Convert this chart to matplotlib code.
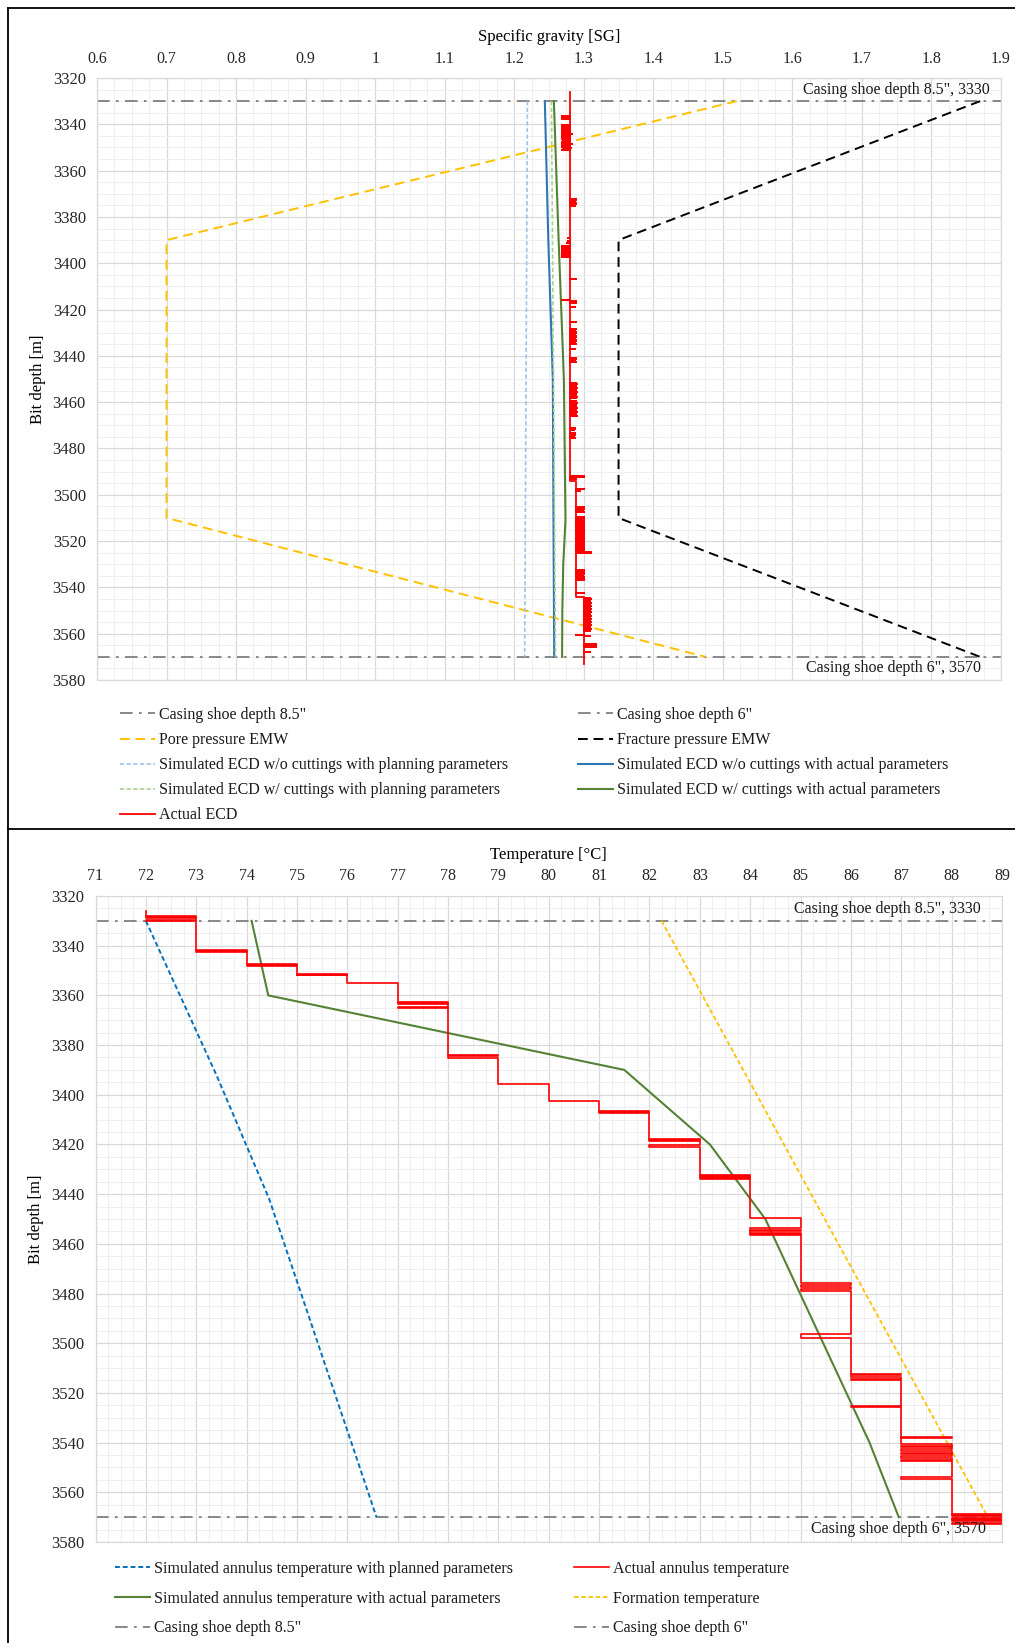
import numpy as np
import matplotlib.pyplot as plt
from matplotlib.lines import Line2D
from matplotlib.ticker import MultipleLocator, FuncFormatter

plt.rcParams['font.family'] = ['Liberation Serif', 'DejaVu Serif']
plt.rcParams['font.size'] = 11.5
plt.rcParams['text.color'] = '#1a1a1a'

W, H = 1015, 1643
fig = plt.figure(figsize=(W / 100, H / 100), dpi=100)

# ---------------- ECD / pressure window data ----------------
shoe_85 = 3330
shoe_6 = 3570

pore_depth = [3330, 3390, 3510, 3570]
pore_sg = [1.52, 0.70, 0.70, 1.475]
frac_depth = [3330, 3390, 3510, 3570]
frac_sg = [1.87, 1.35, 1.35, 1.87]

sim_plan_nocut_depth = [3330, 3570]
sim_plan_nocut = [1.219, 1.215]
sim_act_nocut_depth = [3330, 3390, 3450, 3515, 3570]
sim_act_nocut = [1.244, 1.249, 1.2555, 1.2565, 1.2575]
sim_plan_cut_depth = [3330, 3450, 3570]
sim_plan_cut = [1.2535, 1.2565, 1.2593]
sim_act_cut_depth = [3330, 3388, 3450, 3511, 3530, 3550, 3570]
sim_act_cut = [1.257, 1.2636, 1.2714, 1.2737, 1.2705, 1.2692, 1.2688]

# actual ECD log: steady level between shift depths + single-reading excursions
ecd_shift_depth = [3326.2, 3494.0, 3544.0, 3573.0]
ecd_level = [1.280, 1.289, 1.300]
ecd_spike_depth = [
    3336.3, 3336.8, 3337.3, 3337.8,
    3340.3, 3340.9, 3341.5, 3342.1, 3342.7, 3343.3, 3344.0, 3343.9, 3344.5, 3345.1,
    3345.7, 3346.3, 3346.9, 3347.5, 3348.1, 3348.4, 3348.7, 3349.3, 3349.9, 3350.2,
    3350.5, 3351.0,
    3372.2, 3372.8, 3373.4, 3374.0, 3374.6, 3375.3,
    3389.1, 3390.2, 3391.2, 3392.6, 3393.2, 3393.8, 3394.4, 3395.0, 3395.6, 3396.2,
    3396.8, 3397.5,
    3407.0, 3415.9, 3416.3, 3417.0, 3418.9, 3425.3,
    3428.4, 3429.0, 3429.6, 3430.2, 3430.8, 3431.4, 3432.0, 3432.6, 3433.2, 3433.8,
    3434.4, 3434.9, 3437.0, 3440.8, 3441.4, 3442.0, 3442.6,
    3451.6, 3452.2, 3452.8, 3453.4, 3454.0, 3454.6, 3455.2, 3455.8, 3456.4, 3457.0,
    3457.6, 3458.2, 3459.6, 3460.2, 3460.8, 3461.8, 3462.4, 3463.0, 3463.6, 3464.2,
    3464.8, 3465.4, 3466.0,
    3471.0, 3471.6, 3472.2, 3473.5, 3474.1, 3474.8, 3475.5,
    3491.8, 3492.5, 3493.0,
    3497.5, 3498.3, 3505.4, 3506.1, 3506.8, 3507.6,
    3509.7, 3510.4, 3511.1, 3511.8, 3512.5, 3513.2, 3513.9, 3514.6, 3515.3, 3516.0,
    3516.7, 3517.4, 3518.1, 3518.8, 3519.5, 3520.2, 3520.9, 3521.6, 3522.3, 3523.0,
    3523.7, 3524.3, 3524.8, 3525.3,
    3532.7, 3533.4, 3534.1, 3534.8, 3535.5, 3536.2, 3537.0, 3542.5,
    3544.5, 3545.2, 3545.9, 3546.6, 3547.3, 3548.0, 3548.7, 3549.4, 3550.1, 3550.8,
    3551.5, 3552.2, 3552.9, 3553.6, 3554.3, 3555.0, 3555.7, 3556.4, 3557.1, 3557.8,
    3558.7, 3560.7, 3561.2,
    3564.3, 3564.8, 3565.3, 3565.8, 3568.0,
]
ecd_spike_sg = [
    1.268, 1.268, 1.268, 1.268,
    1.268, 1.268, 1.269, 1.268, 1.268, 1.270, 1.283, 1.268, 1.268, 1.269,
    1.268, 1.268, 1.270, 1.268, 1.268, 1.283, 1.269, 1.268, 1.268, 1.282,
    1.270, 1.268,
    1.289, 1.289, 1.288, 1.289, 1.289, 1.288,
    1.277, 1.277, 1.276, 1.268, 1.268, 1.268, 1.268, 1.268, 1.268, 1.268,
    1.268, 1.268,
    1.289, 1.268, 1.289, 1.289, 1.288, 1.289,
    1.289, 1.288, 1.289, 1.289, 1.288, 1.289, 1.289, 1.288, 1.289, 1.289,
    1.288, 1.289, 1.288, 1.289, 1.289, 1.288, 1.289,
    1.289, 1.290, 1.289, 1.289, 1.290, 1.289, 1.289, 1.290, 1.289, 1.289,
    1.290, 1.289, 1.289, 1.290, 1.289, 1.289, 1.290, 1.289, 1.289, 1.290,
    1.289, 1.289, 1.290,
    1.287, 1.287, 1.286, 1.287, 1.287, 1.286, 1.287,
    1.300, 1.300, 1.289,
    1.300, 1.295, 1.300, 1.300, 1.299, 1.300,
    1.301, 1.300, 1.301, 1.300, 1.301, 1.300, 1.301, 1.300, 1.301, 1.300,
    1.301, 1.300, 1.301, 1.300, 1.301, 1.300, 1.301, 1.300, 1.301, 1.300,
    1.301, 1.300, 1.310, 1.310,
    1.300, 1.300, 1.300, 1.299, 1.300, 1.300, 1.300, 1.300,
    1.309, 1.310, 1.309, 1.310, 1.309, 1.310, 1.309, 1.310, 1.309, 1.310,
    1.309, 1.310, 1.309, 1.310, 1.309, 1.310, 1.309, 1.310, 1.309, 1.310,
    1.309, 1.289, 1.309,
    1.317, 1.317, 1.318, 1.317, 1.309,
]

# ---------------- annulus temperature data ----------------
temp_plan_depth = [3330, 3392, 3442, 3570]
temp_plan = [72.0, 73.4, 74.45, 76.58]
temp_act_depth = [3330, 3360, 3390, 3420, 3450, 3540, 3570]
temp_act = [74.1, 74.43, 81.5, 83.2, 84.3, 86.37, 86.95]
form_depth = [3330, 3570]
form_temp = [82.24, 88.72]

# measured annulus temperature steps by 1 degC; each group lists the depths
# where the sensor reading switched between two neighbouring levels
ann_levels = list(range(72, 90))
ann_start = 3326.0
ann_switch = [
    [3328.0, 3328.5, 3329.0, 3329.5, 3330.0],
    [3341.7, 3342.1, 3342.6],
    [3347.3, 3347.7, 3348.0],
    [3351.3, 3351.6, 3351.8],
    [3355.1],
    [3362.7, 3363.1, 3363.5, 3364.5, 3364.9],
    [3384.0, 3384.5, 3385.2],
    [3395.5],
    [3402.6],
    [3406.7, 3407.0, 3407.4],
    [3417.9, 3418.3, 3418.8, 3420.4, 3421.0],
    [3432.3, 3432.7, 3433.2, 3433.6, 3434.0],
    [3449.7, 3453.8, 3454.4, 3455.0, 3455.6, 3456.1, 3456.5],
    [3475.9, 3476.6, 3477.3, 3478.0, 3478.9, 3496.4, 3497.7],
    [3512.2, 3512.9, 3513.6, 3514.2, 3514.6, 3525.3, 3525.8],
    [3537.9, 3538.3, 3540.5, 3541.2, 3541.9, 3542.6, 3543.3, 3544.0, 3544.7,
     3545.4, 3546.1, 3546.8, 3547.2, 3553.9, 3554.6],
    [3568.7, 3569.2, 3569.7, 3570.2, 3570.7, 3571.2, 3571.7, 3572.2, 3572.7],
]

# ---------------- styles ----------------
GRAY = '#7f7f7f'
RED = '#ff0000'
GOLD = '#ffc000'
LBLUE = '#9dc3e6'
BLUE = '#2e75b6'
LGREEN = '#a9d18e'
GREEN = '#548235'
PBLUE = '#0070c0'
dashdot = (0, (7, 3.5, 1.5, 3.5))
dash_long = (0, (5, 3))
dash_short = (0, (2.5, 1.5))


def build_ecd_path():
    shifts = np.array(ecd_shift_depth)
    order = np.argsort(ecd_spike_depth)
    d_out = [shifts[0]]
    v_out = [ecd_level[0]]
    lvl = 0
    for i in order:
        d = ecd_spike_depth[i]
        while lvl + 1 < len(ecd_level) and d >= shifts[lvl + 1]:
            d_out += [shifts[lvl + 1], shifts[lvl + 1]]
            v_out += [ecd_level[lvl], ecd_level[lvl + 1]]
            lvl += 1
        b = ecd_level[lvl]
        d_out += [d, d, d]
        v_out += [b, ecd_spike_sg[i], b]
    while lvl + 1 < len(ecd_level):
        d_out += [shifts[lvl + 1], shifts[lvl + 1]]
        v_out += [ecd_level[lvl], ecd_level[lvl + 1]]
        lvl += 1
    d_out.append(shifts[-1])
    v_out.append(ecd_level[-1])
    return v_out, d_out


def build_ann_path():
    t_out = [ann_levels[0]]
    d_out = [ann_start]
    for i, grp in enumerate(ann_switch):
        lo, hi = ann_levels[i], ann_levels[i + 1]
        for k, d in enumerate(grp):
            a, b = (lo, hi) if k % 2 == 0 else (hi, lo)
            t_out += [a, b]
            d_out += [d, d]
    return t_out, d_out


def style_axes(ax, xmin, xmax, xmajor, xminor, xlabel, pad, lpad):
    ax.set_xlim(xmin, xmax)
    ax.set_ylim(3580, 3320)
    ax.xaxis.tick_top()
    ax.xaxis.set_label_position('top')
    ax.xaxis.set_major_locator(MultipleLocator(xmajor))
    ax.xaxis.set_minor_locator(MultipleLocator(xminor))
    ax.yaxis.set_major_locator(MultipleLocator(20))
    ax.yaxis.set_minor_locator(MultipleLocator(5))
    ax.xaxis.set_major_formatter(FuncFormatter(lambda v, p: f'{v:.10g}'))
    ax.grid(which='major', color='#d9d9d9', lw=0.9)
    ax.grid(which='minor', color='#efefef', lw=0.7)
    ax.set_axisbelow(True)
    for s in ax.spines.values():
        s.set_color('#d9d9d9')
        s.set_linewidth(0.9)
    ax.tick_params(which='both', length=0, labelsize=11.5, colors='#262626')
    ax.tick_params(axis='x', pad=pad)
    ax.tick_params(axis='y', pad=8, labelsize=12)
    ax.set_xlabel(xlabel, fontsize=12, labelpad=lpad)
    ax.set_ylabel('Bit depth [m]', fontsize=12, labelpad=5)


# ================= top panel: specific gravity =================
ax1 = fig.add_axes([97 / W, 1 - 680 / H, 904 / W, 602 / H])
style_axes(ax1, 0.6, 1.9, 0.1, 0.025, 'Specific gravity [SG]', 8, 7)

l_c85 = ax1.axhline(shoe_85, color=GRAY, lw=1.3, ls=dashdot)
l_c6 = ax1.axhline(shoe_6, color=GRAY, lw=1.3, ls=dashdot)
l_pore, = ax1.plot(pore_sg, pore_depth, color=GOLD, lw=1.4, ls=dash_long)
l_frac, = ax1.plot(frac_sg, frac_depth, color='black', lw=1.4, ls=dash_long)
l_pnc, = ax1.plot(sim_plan_nocut, sim_plan_nocut_depth, color=LBLUE, lw=1.2, ls=dash_short)
l_anc, = ax1.plot(sim_act_nocut, sim_act_nocut_depth, color=BLUE, lw=1.5)
l_pc, = ax1.plot(sim_plan_cut, sim_plan_cut_depth, color=LGREEN, lw=1.2, ls=dash_short)
l_ac, = ax1.plot(sim_act_cut, sim_act_cut_depth, color=GREEN, lw=1.5)
ecd_v, ecd_d = build_ecd_path()
l_ecd, = ax1.plot(ecd_v, ecd_d, color=RED, lw=1.3)

ax1.text(0.988, shoe_85 - 1.5, 'Casing shoe depth 8.5", 3330', transform=ax1.get_yaxis_transform(),
         ha='right', va='bottom', fontsize=11.5)
ax1.text(0.978, shoe_6 + 1.5, 'Casing shoe depth 6", 3570', transform=ax1.get_yaxis_transform(),
         ha='right', va='top', fontsize=11.5)

leg_kw = dict(frameon=False, loc='upper left', borderpad=0, borderaxespad=0,
              handlelength=2.2, handletextpad=0.25, fontsize=11.5)
fig.legend([l_c85, l_pore, l_pnc, l_pc, l_ecd],
           ['Casing shoe depth 8.5"', 'Pore pressure EMW',
            'Simulated ECD w/o cuttings with planning parameters',
            'Simulated ECD w/ cuttings with planning parameters', 'Actual ECD'],
           bbox_to_anchor=(120 / W, 1 - 707 / H), labelspacing=0.57, **leg_kw)
fig.legend([l_c6, l_frac, l_anc, l_ac],
           ['Casing shoe depth 6"', 'Fracture pressure EMW',
            'Simulated ECD w/o cuttings with actual parameters',
            'Simulated ECD w/ cuttings with actual parameters'],
           bbox_to_anchor=(578 / W, 1 - 707 / H), labelspacing=0.57, **leg_kw)

# ================= bottom panel: temperature =================
ax2 = fig.add_axes([95.5 / W, 1 - 1542 / H, 906.5 / W, 646 / H])
style_axes(ax2, 71, 89, 1, 0.25, 'Temperature [°C]', 9, 6)

t_c85 = ax2.axhline(shoe_85, color=GRAY, lw=1.3, ls=dashdot)
t_c6 = ax2.axhline(shoe_6, color=GRAY, lw=1.3, ls=dashdot)
t_plan, = ax2.plot(temp_plan, temp_plan_depth, color=PBLUE, lw=1.4, ls=dash_short)
t_form, = ax2.plot(form_temp, form_depth, color=GOLD, lw=1.3, ls=dash_short)
t_act, = ax2.plot(temp_act, temp_act_depth, color=GREEN, lw=1.5)
ann_t, ann_d = build_ann_path()
t_ann, = ax2.plot(ann_t, ann_d, color=RED, lw=1.2)

ax2.text(0.977, shoe_85 - 1.5, 'Casing shoe depth 8.5", 3330', transform=ax2.get_yaxis_transform(),
         ha='right', va='bottom', fontsize=11.5)
ax2.text(0.982, shoe_6 + 1.5, 'Casing shoe depth 6", 3570', transform=ax2.get_yaxis_transform(),
         ha='right', va='top', fontsize=11.5)

fig.legend([t_plan, t_act, t_c85],
           ['Simulated annulus temperature with planned parameters',
            'Simulated annulus temperature with actual parameters',
            'Casing shoe depth 8.5"'],
           bbox_to_anchor=(115 / W, 1 - 1561 / H), labelspacing=0.86, **leg_kw)
fig.legend([t_ann, t_form, t_c6],
           ['Actual annulus temperature', 'Formation temperature', 'Casing shoe depth 6"'],
           bbox_to_anchor=(574 / W, 1 - 1561 / H), labelspacing=0.86, **leg_kw)

# chart frames
for xs, ys in [([7.5, 7.5], [7.5, H]), ([7.5, W], [7.5, 7.5]), ([7.5, W], [829, 829])]:
    fig.add_artist(Line2D([x / W for x in xs], [1 - y / H for y in ys],
                          transform=fig.transFigure, color='black', lw=1.3))

fig.savefig('out.png', dpi=100)
